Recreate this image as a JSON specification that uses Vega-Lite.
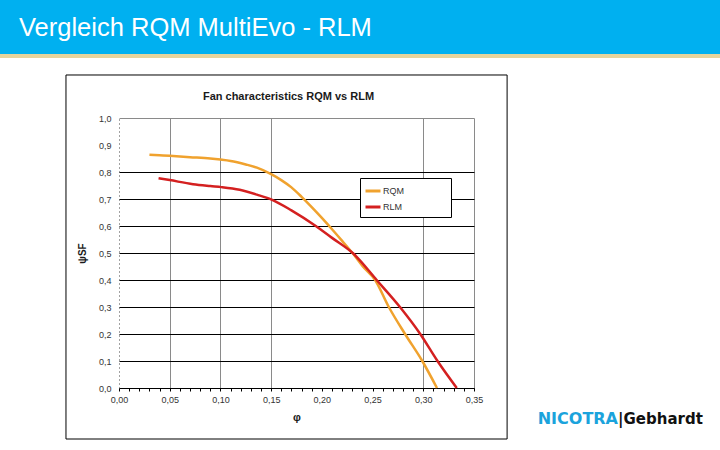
{
  "$schema": "https://vega.github.io/schema/vega-lite/v6.json",
  "background": "white",
  "padding": 0,
  "spacing": 0,
  "config": {
    "view": {"stroke": null},
    "concat": {"spacing": 0},
    "font": "Liberation Sans"
  },
  "datasets": {
    "curves": [
      {"phi": 0.030, "psi": 0.864, "series": "RQM"},
      {"phi": 0.040, "psi": 0.862, "series": "RQM"},
      {"phi": 0.050, "psi": 0.860, "series": "RQM"},
      {"phi": 0.070, "psi": 0.855, "series": "RQM"},
      {"phi": 0.090, "psi": 0.850, "series": "RQM"},
      {"phi": 0.100, "psi": 0.846, "series": "RQM"},
      {"phi": 0.110, "psi": 0.841, "series": "RQM"},
      {"phi": 0.125, "psi": 0.828, "series": "RQM"},
      {"phi": 0.136, "psi": 0.816, "series": "RQM"},
      {"phi": 0.150, "psi": 0.792, "series": "RQM"},
      {"phi": 0.160, "psi": 0.770, "series": "RQM"},
      {"phi": 0.170, "psi": 0.743, "series": "RQM"},
      {"phi": 0.180, "psi": 0.708, "series": "RQM"},
      {"phi": 0.190, "psi": 0.670, "series": "RQM"},
      {"phi": 0.200, "psi": 0.630, "series": "RQM"},
      {"phi": 0.210, "psi": 0.588, "series": "RQM"},
      {"phi": 0.220, "psi": 0.545, "series": "RQM"},
      {"phi": 0.231, "psi": 0.496, "series": "RQM"},
      {"phi": 0.240, "psi": 0.452, "series": "RQM"},
      {"phi": 0.2525, "psi": 0.400, "series": "RQM"},
      {"phi": 0.266, "psi": 0.300, "series": "RQM"},
      {"phi": 0.282, "psi": 0.200, "series": "RQM"},
      {"phi": 0.299, "psi": 0.100, "series": "RQM"},
      {"phi": 0.3135, "psi": 0.000, "series": "RQM"},
      {"phi": 0.039, "psi": 0.777, "series": "RLM"},
      {"phi": 0.050, "psi": 0.770, "series": "RLM"},
      {"phi": 0.073, "psi": 0.755, "series": "RLM"},
      {"phi": 0.090, "psi": 0.748, "series": "RLM"},
      {"phi": 0.101, "psi": 0.744, "series": "RLM"},
      {"phi": 0.119, "psi": 0.734, "series": "RLM"},
      {"phi": 0.136, "psi": 0.716, "series": "RLM"},
      {"phi": 0.151, "psi": 0.697, "series": "RLM"},
      {"phi": 0.170, "psi": 0.658, "series": "RLM"},
      {"phi": 0.194, "psi": 0.600, "series": "RLM"},
      {"phi": 0.210, "psi": 0.556, "series": "RLM"},
      {"phi": 0.231, "psi": 0.498, "series": "RLM"},
      {"phi": 0.254, "psi": 0.400, "series": "RLM"},
      {"phi": 0.277, "psi": 0.300, "series": "RLM"},
      {"phi": 0.297, "psi": 0.200, "series": "RLM"},
      {"phi": 0.314, "psi": 0.100, "series": "RLM"},
      {"phi": 0.333, "psi": 0.000, "series": "RLM"}
    ],
    "logoA": [{"t": "NICOTRA"}],
    "logoB": [{"t": "|Gebhardt"}],
    "frame": [{}],
    "none": []
  },
  "vconcat": [
    {
      "width": 720,
      "height": 54,
      "view": {"fill": "#00B0F0", "stroke": null},
      "title": {
        "text": "Vergleich RQM MultiEvo - RLM",
        "anchor": "start",
        "frame": "group",
        "orient": "top",
        "offset": -61,
        "baseline": "alphabetic",
        "dx": 19,
        "color": "#FFFFFF",
        "font": "Liberation Sans",
        "fontSize": 25.5,
        "fontWeight": "normal"
      },
      "data": {"name": "none"},
      "mark": "point"
    },
    {
      "width": 720,
      "height": 4,
      "view": {"fill": "#E6D49C", "stroke": null},
      "data": {"name": "none"},
      "mark": "point"
    },
    {
      "width": 720,
      "height": 16,
      "data": {"name": "none"},
      "mark": "point"
    },
    {
      "spacing": 0,
      "hconcat": [
        {"width": 65, "height": 270, "data": {"name": "none"}, "mark": "point"},
        {
          "width": 355,
          "height": 270,
          "title": {
            "text": "Fan characteristics RQM vs RLM",
            "anchor": "middle",
            "frame": "group",
            "orient": "top",
            "offset": -34,
            "dx": -8,
            "baseline": "middle",
            "font": "Liberation Sans",
            "fontSize": 11,
            "fontWeight": "bold",
            "color": "#1a1a1a"
          },
          "layer": [
            {
              "data": {"name": "curves"},
              "mark": {"type": "line", "strokeWidth": 2.5, "interpolate": "monotone"},
              "encoding": {
                "x": {
                  "field": "phi",
                  "type": "quantitative",
                  "scale": {"domain": [0, 0.35], "nice": false, "zero": false},
                  "axis": {
                    "title": "φ",
                    "titleFont": "Liberation Sans",
                    "titleFontSize": 11,
                    "titleFontWeight": "bold",
                    "titleColor": "#1a1a1a",
                    "titlePadding": 7,
                    "values": [0, 0.01, 0.02, 0.03, 0.04, 0.05, 0.06, 0.07, 0.08, 0.09, 0.1, 0.11, 0.12, 0.13, 0.14, 0.15, 0.16, 0.17, 0.18, 0.19, 0.2, 0.21, 0.22, 0.23, 0.24, 0.25, 0.26, 0.27, 0.28, 0.29, 0.3, 0.31, 0.32, 0.33, 0.34, 0.35],
                    "labelExpr": "round(datum.value*100) % 5 === 0 ? replace(format(datum.value, '.2f'), '.', ',') : ''",
                    "labelFont": "Liberation Sans",
                    "labelFontSize": 9,
                    "labelColor": "#333333",
                    "labelPadding": 4,
                    "labelFlush": false,
                    "labelOverlap": false,
                    "tickSize": 3,
                    "tickColor": "#000000",
                    "domainColor": "#000000",
                    "grid": true,
                    "gridColor": "#8a8a8a",
                    "gridOpacity": {"condition": {"test": "indexof([5,10,15,30,35], round(datum.value*100)) >= 0", "value": 1}, "value": 0}
                  }
                },
                "y": {
                  "field": "psi",
                  "type": "quantitative",
                  "scale": {"domain": [0, 1], "nice": false, "zero": false},
                  "axis": {
                    "title": "ψSF",
                    "titleFont": "Liberation Sans",
                    "titleFontSize": 10,
                    "titleFontWeight": "bold",
                    "titleColor": "#1a1a1a",
                    "titlePadding": 11,
                    "values": [0, 0.1, 0.2, 0.3, 0.4, 0.5, 0.6, 0.7, 0.8, 0.9, 1.0],
                    "labelExpr": "replace(format(datum.value, '.1f'), '.', ',')",
                    "labelFont": "Liberation Sans",
                    "labelFontSize": 9,
                    "labelColor": "#333333",
                    "labelPadding": 8,
                    "labelOverlap": false,
                    "ticks": false,
                    "domainColor": "#444444",
                    "domainDash": [1, 3],
                    "grid": true,
                    "gridColor": {"condition": {"test": "datum.value > 0.95", "value": "#8a8a8a"}, "value": "#000000"},
                    "gridOpacity": {"condition": {"test": "abs(datum.value - 0.9) < 0.01", "value": 0}, "value": 1}
                  }
                },
                "color": {
                  "field": "series",
                  "type": "nominal",
                  "scale": {"domain": ["RQM", "RLM"], "range": ["#F0A22E", "#D42020"]},
                  "legend": {
                    "orient": "none",
                    "legendX": 360,
                    "legendY": 178,
                    "title": null,
                    "symbolType": "stroke",
                    "symbolStrokeWidth": 3,
                    "symbolSize": 225,
                    "labelFont": "Liberation Sans",
                    "labelFontSize": 9,
                    "labelColor": "#333333",
                    "labelOffset": 1,
                    "labelExpr": "datum.label + '                 \u200b'",
                    "padding": 4,
                    "rowPadding": 1,
                    "strokeColor": "#000000",
                    "fillColor": "#FFFFFF"
                  }
                }
              }
            },
            {
              "data": {"name": "frame"},
              "mark": {"type": "rect", "filled": false, "stroke": "#000000", "strokeWidth": 1},
              "encoding": {
                "x": {
                  "datum": -0.05227,
                  "type": "quantitative",
                  "axis": {
                    "title": "φ",
                    "titleFont": "Liberation Sans",
                    "titleFontSize": 11,
                    "titleFontWeight": "bold",
                    "titleColor": "#1a1a1a",
                    "titlePadding": 7,
                    "values": [0, 0.01, 0.02, 0.03, 0.04, 0.05, 0.06, 0.07, 0.08, 0.09, 0.1, 0.11, 0.12, 0.13, 0.14, 0.15, 0.16, 0.17, 0.18, 0.19, 0.2, 0.21, 0.22, 0.23, 0.24, 0.25, 0.26, 0.27, 0.28, 0.29, 0.3, 0.31, 0.32, 0.33, 0.34, 0.35],
                    "labelExpr": "round(datum.value*100) % 5 === 0 ? replace(format(datum.value, '.2f'), '.', ',') : ''",
                    "labelFont": "Liberation Sans",
                    "labelFontSize": 9,
                    "labelColor": "#333333",
                    "labelPadding": 4,
                    "labelFlush": false,
                    "labelOverlap": false,
                    "tickSize": 3,
                    "tickColor": "#000000",
                    "domainColor": "#000000",
                    "grid": true,
                    "gridColor": "#8a8a8a",
                    "gridOpacity": {"condition": {"test": "indexof([5,10,15,30,35], round(datum.value*100)) >= 0", "value": 1}, "value": 0}
                  }
                },
                "x2": {"datum": 0.38264},
                "y": {
                  "datum": -0.18889,
                  "type": "quantitative",
                  "axis": {
                    "title": "ψSF",
                    "titleFont": "Liberation Sans",
                    "titleFontSize": 10,
                    "titleFontWeight": "bold",
                    "titleColor": "#1a1a1a",
                    "titlePadding": 11,
                    "values": [0, 0.1, 0.2, 0.3, 0.4, 0.5, 0.6, 0.7, 0.8, 0.9, 1.0],
                    "labelExpr": "replace(format(datum.value, '.1f'), '.', ',')",
                    "labelFont": "Liberation Sans",
                    "labelFontSize": 9,
                    "labelColor": "#333333",
                    "labelPadding": 8,
                    "labelOverlap": false,
                    "ticks": false,
                    "domainColor": "#444444",
                    "domainDash": [1, 3],
                    "grid": true,
                    "gridColor": {"condition": {"test": "datum.value > 0.95", "value": "#8a8a8a"}, "value": "#000000"},
                    "gridOpacity": {"condition": {"test": "abs(datum.value - 0.9) < 0.01", "value": 0}, "value": 1}
                  }
                },
                "y2": {"datum": 1.15926}
              }
            }
          ]
        },
        {"width": 10, "height": 270, "data": {"name": "none"}, "mark": "point"},
        {
          "spacing": 0,
          "vconcat": [
            {"width": 200, "height": 291, "data": {"name": "none"}, "mark": "point"},
            {
              "width": 200,
              "height": 20,
              "layer": [
                {
                  "data": {"name": "logoA"},
                  "mark": {"type": "text", "align": "right", "baseline": "middle", "font": "DejaVu Sans", "fontSize": 16, "fontWeight": "bold", "color": "#1BA3DC"},
                  "encoding": {"text": {"field": "t", "type": "nominal"}}
                },
                {
                  "data": {"name": "logoB"},
                  "mark": {"type": "text", "align": "left", "baseline": "middle", "font": "DejaVu Sans", "fontSize": 15, "fontWeight": "bold", "color": "#111111"},
                  "encoding": {"text": {"field": "t", "type": "nominal"}}
                }
              ]
            }
          ]
        }
      ]
    }
  ]
}
